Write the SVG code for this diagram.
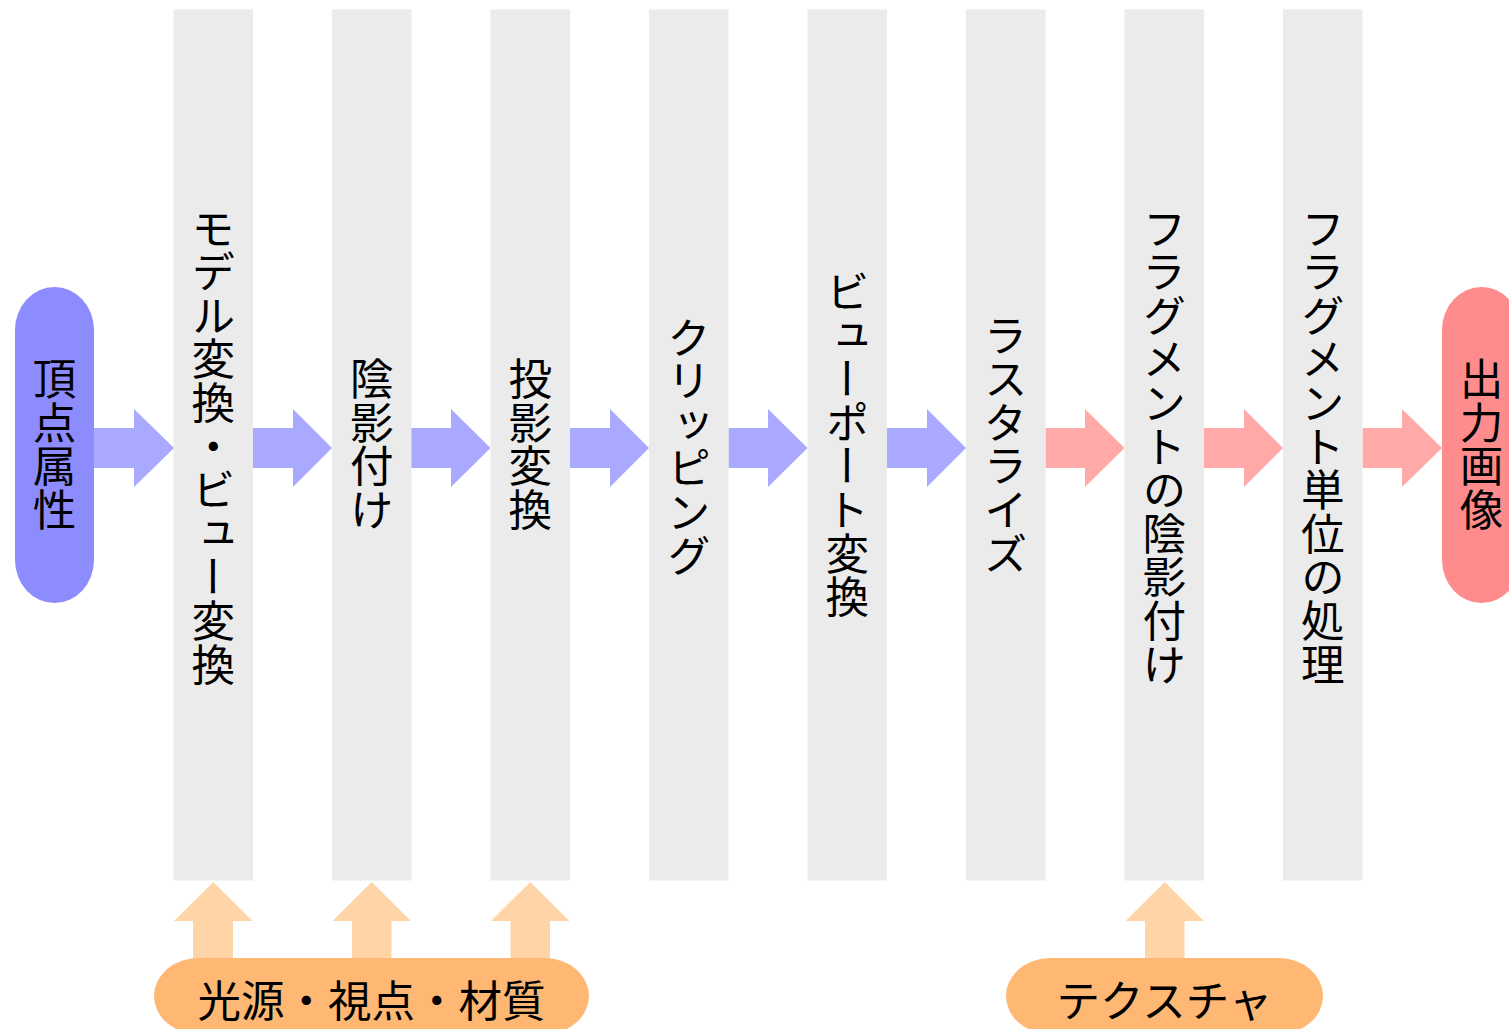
<svg xmlns="http://www.w3.org/2000/svg" width="1509" height="1029" viewBox="0 0 1509 1029">
<style>
.col{fill:#EBEBEB}
.vt{font-family:"Noto Sans CJK JP","Noto Sans CJK SC",sans-serif;font-size:43.6px;fill:#000;writing-mode:vertical-rl;text-anchor:middle}
.ht{font-family:"Noto Sans CJK JP","Noto Sans CJK SC",sans-serif;font-size:43.5px;fill:#000;text-anchor:middle;dominant-baseline:central}
.ab{fill:#A9A9FF}
.ap{fill:#FFA9A9}
.ao{fill:#FFD5A8}
</style>
<rect width="1509" height="1029" fill="#fff"/>
<g id="connectors">
<path class="ab" d="M94,428H134V409L174,448L134,487V468H94Z"/>
<path class="ab" d="M253,428H293V409L332,448L293,487V468H253Z"/>
<path class="ab" d="M411,428H451V409L490.5,448L451,487V468H411Z"/>
<path class="ab" d="M570,428H610V409L649,448L610,487V468H570Z"/>
<path class="ab" d="M728.5,428H768V409L807.5,448L768,487V468H728.5Z"/>
<path class="ab" d="M887,428H927V409L966,448L927,487V468H887Z"/>
<path class="ap" d="M1045.5,428H1085V409L1124.5,448L1085,487V468H1045.5Z"/>
<path class="ap" d="M1204,428H1244V409L1283,448L1244,487V468H1204Z"/>
<path class="ap" d="M1362.5,428H1402V409L1442,448L1402,487V468H1362.5Z"/>
<path class="ao" d="M193,960V921H174L213.25,882L252.5,921H233V960Z"/>
<path class="ao" d="M352,960V921H332.5L371.75,882L411,921H391.5V960Z"/>
<path class="ao" d="M510.5,960V921H491L530.25,882L569.5,921H550V960Z"/>
<path class="ao" d="M1145,960V921H1125.5L1164.75,882L1204,921H1184.5V960Z"/>
</g>
<g id="n-vertex">
<rect x="15" y="287" width="79" height="316" rx="39.5" ry="43" fill="#8C8CFF"/>
<text class="vt" x="54.5" y="444">頂点属性</text>
</g>
<g id="n-modelview">
<rect class="col" x="173.5" y="9.5" width="79.5" height="871"/>
<text class="vt" x="213.25" y="446">モデル変換・ビュー変換</text>
</g>
<g id="n-shading">
<rect class="col" x="332" y="9.5" width="79.5" height="871"/>
<text class="vt" x="371.75" y="444">陰影付け</text>
</g>
<g id="n-projection">
<rect class="col" x="490.5" y="9.5" width="79.5" height="871"/>
<text class="vt" x="530.25" y="444">投影変換</text>
</g>
<g id="n-clipping">
<rect class="col" x="649" y="9.5" width="79.5" height="871"/>
<text class="vt" x="688.75" y="446">クリッピング</text>
</g>
<g id="n-viewport">
<rect class="col" x="807.5" y="9.5" width="79.5" height="871"/>
<text class="vt" x="847.25" y="444">ビューポート変換</text>
</g>
<g id="n-raster">
<rect class="col" x="966" y="9.5" width="79.5" height="871"/>
<text class="vt" x="1005.75" y="444">ラスタライズ</text>
</g>
<g id="n-fragshade">
<rect class="col" x="1124.5" y="9.5" width="79.5" height="871"/>
<text class="vt" x="1164.25" y="446">フラグメントの陰影付け</text>
</g>
<g id="n-fragproc">
<rect class="col" x="1283" y="9.5" width="79.5" height="871"/>
<text class="vt" x="1322.75" y="446">フラグメント単位の処理</text>
</g>
<g id="n-output">
<rect x="1442" y="287" width="79" height="316" rx="39.5" ry="43" fill="#FF8C8C"/>
<text class="vt" x="1481.5" y="444">出力画像</text>
</g>
<g id="n-light">
<rect x="154" y="958" width="435" height="76" rx="44" ry="38" fill="#FFB873"/>
<text class="ht" x="371.5" y="998">光源・視点・材質</text>
</g>
<g id="n-texture">
<rect x="1006" y="958" width="317" height="76" rx="44" ry="38" fill="#FFB873"/>
<text class="ht" x="1164.5" y="998">テクスチャ</text>
</g>
</svg>
